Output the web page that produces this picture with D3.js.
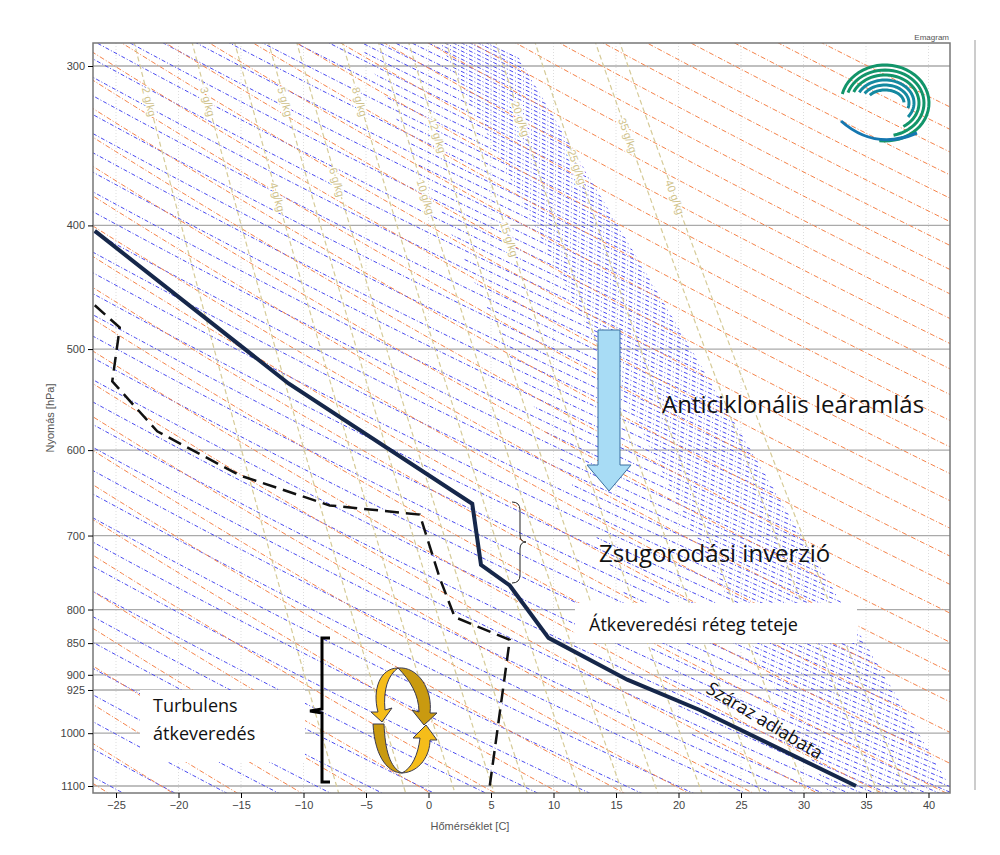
<!DOCTYPE html>
<html><head><meta charset="utf-8">
<script src="https://cdn.jsdelivr.net/npm/d3@7"></script>
<style>body{margin:0;background:#fff;font-family:"Liberation Sans",Arial,sans-serif}</style>
</head><body>
<script>
// sounding data
var tempP = [404, 532, 661, 738, 766, 842, 908, 959, 1100];
var tempT = [-26.7, -11.2, 3.5, 4.2, 6.5, 9.6, 15.9, 21.7, 34.2];
var dewP = [462, 481, 530, 580, 628, 663, 674, 756, 811, 845, 1100];
var dewT = [-26.7, -24.7, -25.3, -21.7, -15.1, -7.9, -0.7, 0.9, 2.1, 6.5, 4.9];
var pTicks = [300, 400, 500, 600, 700, 800, 850, 900, 925, 1000, 1100];
var tTicks = [-25, -20, -15, -10, -5, 0, 5, 10, 15, 20, 25, 30, 35, 40];
var mixRatios = [2, 3, 4, 5, 6, 8, 10, 12, 15, 20, 25, 35, 40];
var mixLabelP = [320, 320, 380, 320, 370, 320, 380, 340, 410, 330, 360, 340, 380];

var W = 1000, H = 855;
var L = 93, R = 950, T = 43, B = 793;
var svg = d3.select("body").append("svg").attr("width", W).attr("height", H);
var x = d3.scaleLinear().domain([-26.84, 41.72]).range([L, R]);
var y = d3.scaleLog().domain([300, 1100]).range([66, 786]);
var pLevels = d3.range(260, 1121, 10);

var defs = svg.append("defs");
defs.append("clipPath").attr("id", "plot")
  .append("rect").attr("x", L).attr("y", T).attr("width", R - L).attr("height", B - T);
defs.append("clipPath").attr("id", "moist")
  .append("path").attr("d", "M" + L + "," + T + "L510," + T + "L955,795L" + L + ",795Z");
defs.append("clipPath").attr("id", "dense")
  .append("path").attr("d", "M360," + T + "L510," + T + "L955,795L720,795Z");
defs.append("clipPath").attr("id", "dense2")
  .append("path").attr("d", "M440," + T + "L510," + T + "L955,795L830,795Z");

var g = svg.append("g").attr("clip-path", "url(#plot)");

g.selectAll(".vg").data(tTicks).enter().append("line")
  .attr("x1", d => x(d)).attr("x2", d => x(d)).attr("y1", T).attr("y2", B)
  .attr("stroke", "#ddd").attr("stroke-dasharray", "1,2");
g.selectAll(".hg").data(pTicks).enter().append("line")
  .attr("x1", L).attr("x2", R).attr("y1", d => y(d)).attr("y2", d => y(d))
  .attr("stroke", "#aaa").attr("stroke-width", 1.3);

var line = d3.line().x(d => x(d[0])).y(d => y(d[1]));

function adiab(th, k) { return pLevels.map(p => [th * Math.pow(p / 1000, k) - 273.15, p]); }
function moist(clip, thetas) {
  g.append("g").attr("clip-path", "url(#" + clip + ")")
    .selectAll("path").data(thetas).enter().append("path")
    .attr("d", d => line(adiab(d, 0.33))).attr("fill", "none")
    .attr("stroke", "#4a4af0").attr("stroke-width", 1).attr("stroke-dasharray", "4,2,1,2");
}
moist("moist", d3.range(180, 420, 4));
moist("dense", d3.range(182, 420, 4));
moist("dense2", d3.range(181, 420, 2));

g.selectAll(".dry").data(d3.range(200, 440, 5)).enter().append("path")
  .attr("d", d => line(adiab(d, 0.286))).attr("fill", "none")
  .attr("stroke", "#f5834a").attr("stroke-width", 1).attr("stroke-dasharray", "5,2,1,2");

function dewpt(w, p) { var e = w * p / (622 + w); var a = Math.log(e / 6.112); return 243.5 * a / (17.67 - a); }
g.selectAll(".mr").data(mixRatios).enter().append("path")
  .attr("d", w => line(pLevels.map(p => [dewpt(w, p), p]))).attr("fill", "none")
  .attr("stroke", "#d6cb98").attr("stroke-width", 1.2).attr("stroke-dasharray", "5,3");
mixRatios.forEach(function(w, i) {
  var p = mixLabelP[i], x0 = x(dewpt(w, p)), y0 = y(p);
  var x1 = x(dewpt(w, p * 1.05)), y1 = y(p * 1.05);
  var ang = Math.atan2(y1 - y0, x1 - x0) * 180 / Math.PI;
  g.append("text").attr("transform", "translate(" + x0 + "," + y0 + ") rotate(" + ang + ")")
    .attr("text-anchor", "middle").attr("dy", 4).attr("font-size", 11).attr("fill", "#cfc28a")
    .attr("stroke", "#fff").attr("stroke-width", 3).attr("paint-order", "stroke")
    .text(w + " g/kg");
});

g.append("path").attr("d", line(d3.zip(dewT, dewP))).attr("fill", "none")
  .attr("stroke", "#111").attr("stroke-width", 2.5).attr("stroke-dasharray", "14,7");
g.append("path").attr("d", line(d3.zip(tempT, tempP))).attr("fill", "none")
  .attr("stroke", "#16274a").attr("stroke-width", 4);

svg.append("rect").attr("x", L).attr("y", T).attr("width", R - L).attr("height", B - T)
  .attr("fill", "none").attr("stroke", "#777").attr("stroke-width", 1.5);
svg.append("line").attr("x1", 975).attr("x2", 975).attr("y1", 40).attr("y2", 790).attr("stroke", "#ccc").attr("stroke-width", 2);
svg.append("g").attr("transform", "translate(" + L + ",0)")
  .call(d3.axisLeft(y).tickValues(pTicks).tickFormat(d3.format("d")).tickSize(5))
  .call(a => a.select(".domain").remove())
  .call(a => a.selectAll("text").attr("font-size", 11).attr("fill", "#444"));
svg.append("g").attr("transform", "translate(0," + B + ")")
  .call(d3.axisBottom(x).tickValues(tTicks).tickSize(5))
  .call(a => a.select(".domain").remove())
  .call(a => a.selectAll("text").attr("font-size", 11).attr("fill", "#444"));
svg.append("text").attr("x", 470).attr("y", 830).attr("text-anchor", "middle").attr("font-size", 11).attr("fill", "#555").text("Hőmérséklet [C]");
svg.append("text").attr("transform", "translate(54,418) rotate(-90)").attr("text-anchor", "middle").attr("font-size", 11).attr("fill", "#555").text("Nyomás [hPa]");
svg.append("text").attr("x", 949).attr("y", 40).attr("text-anchor", "end").attr("font-size", 8).attr("fill", "#555").text("Emagram");

// logo: concentric open arcs
var logo = svg.append("g").attr("transform", "translate(885,103)");
[[44, 38], [39, 33], [34, 28], [29, 23], [24, 18], [19, 13]].forEach(function(r, i) {
  var p = d3.path(), a0 = -2.9 + i * 0.08, a1 = 1.7 - i * 0.35;
  for (var k = 0; k <= 40; k++) {
    var a = a0 + (a1 - a0) * k / 40, px = r[0] * Math.cos(a), py = r[1] * Math.sin(a);
    if (k == 0) p.moveTo(px, py); else p.lineTo(px, py);
  }
  logo.append("path").attr("d", p.toString()).attr("fill", "none")
    .attr("stroke", i < 3 ? "#12956a" : "#1489a0").attr("stroke-width", 3);
});
logo.append("path").attr("d", "M-44,18 Q-10,48 32,30").attr("fill", "none").attr("stroke", "#1577b0").attr("stroke-width", 3);

var font = "'Open Sans','Noto Sans',sans-serif";
svg.append("path").attr("d", "M598,330L620,330L620,465L631,465L609,491L587,465L598,465Z")
  .attr("fill", "#a8dcf5").attr("stroke", "#3a6fa0").attr("stroke-width", 1);
svg.append("text").attr("x", 662).attr("y", 413).attr("font-family", font).attr("font-size", 24).attr("fill", "#111").text("Anticiklonális leáramlás");
svg.append("path").attr("d", "M512,502Q520,502 520,510L520,535Q520,542 526,542Q520,542 520,549L520,575Q520,583 512,583")
  .attr("fill", "none").attr("stroke", "#222").attr("stroke-width", 1);
svg.append("text").attr("x", 599).attr("y", 562).attr("font-family", font).attr("font-size", 24).attr("fill", "#111").text("Zsugorodási inverzió");
svg.append("rect").attr("x", 575).attr("y", 603).attr("width", 282).attr("height", 40).attr("fill", "#fff");
svg.append("text").attr("x", 589).attr("y", 631).attr("font-family", font).attr("font-size", 18).attr("fill", "#111").text("Átkeveredési réteg teteje");
svg.append("text").attr("transform", "translate(705,692) rotate(31)").attr("font-family", font).attr("font-size", 18).attr("fill", "#111").text("Száraz adiabata");
svg.append("rect").attr("x", 140).attr("y", 690).attr("width", 165).attr("height", 72).attr("fill", "#fff");
svg.append("text").attr("x", 153).attr("y", 712).attr("font-family", font).attr("font-size", 18).attr("fill", "#111").text("Turbulens");
svg.append("text").attr("x", 153).attr("y", 740).attr("font-family", font).attr("font-size", 18).attr("fill", "#111").text("átkeveredés");
svg.append("path").attr("d", "M330,638L322,638L322,709L310,711L322,713L322,782L330,782")
  .attr("fill", "none").attr("stroke", "#000").attr("stroke-width", 3);
var ring = svg.append("g").attr("stroke", "#3a3a50").attr("stroke-width", 1);
ring.append("path").attr("d", "M398,668C418,666 433,690 430,713L437,713L424,725L412,710L419,712C419,695 410,680 398,668Z").attr("fill", "#c99a10");
ring.append("path").attr("d", "M398,668C380,668 372,690 378,712L371,712L382,722L392,708L385,710C383,690 388,675 398,668Z").attr("fill", "#f5bd1a");
ring.append("path").attr("d", "M373,724L384,724C385,750 390,768 402,773C390,773 375,760 373,724Z").attr("fill", "#c99a10");
ring.append("path").attr("d", "M402,773C420,772 430,755 430,740L437,740L426,725L413,738L420,738C418,755 412,768 402,773Z").attr("fill", "#f5bd1a");
</script>
</body></html>
